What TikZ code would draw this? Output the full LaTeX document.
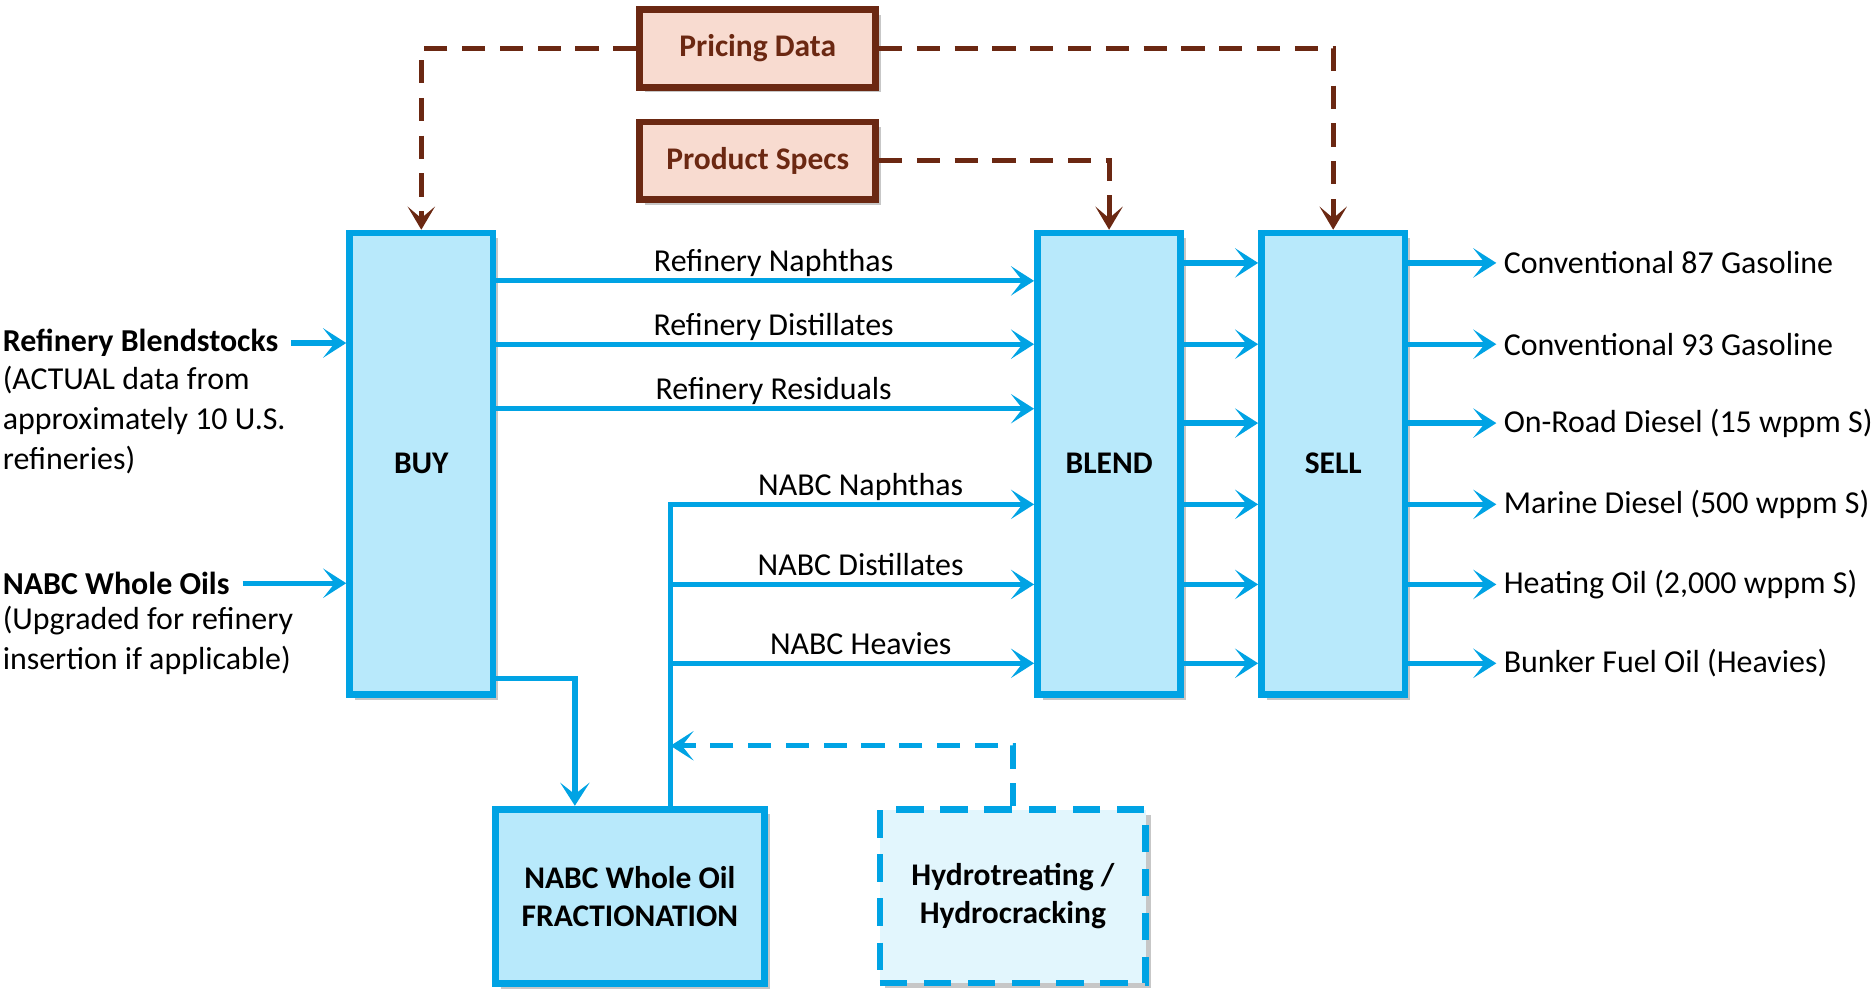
\documentclass[tikz,border=0pt]{standalone}
\usepackage{fontspec}
\setmainfont{Carlito}
\usetikzlibrary{arrows.meta,shadows}

\definecolor{flowblue}{RGB}{0,163,228}
\definecolor{boxblue}{RGB}{184,233,251}
\definecolor{paleblue}{RGB}{226,246,253}
\definecolor{databrown}{RGB}{107,40,18}
\definecolor{datapink}{RGB}{248,219,208}

\tikzset{
  boxshadow/.style={drop shadow={shadow xshift=2.5pt,shadow yshift=-2.5pt,fill=black!22,opacity=1}},
  unit/.style={draw=flowblue,line width=3.2pt,fill=boxblue,font=\fontsize{15}{18}\selectfont\bfseries,align=center,boxshadow},
  datebox/.style={draw=databrown,line width=3.2pt,fill=datapink,text=databrown,font=\fontsize{15}{18}\selectfont\bfseries,minimum width=3.95cm,minimum height=1.3cm,boxshadow},
  flow/.style={draw=flowblue,line width=2.5pt,-{Stealth[length=11pt,width=14pt,inset=5.5pt]}},
  feed/.style={draw=flowblue,line width=2.5pt,dash pattern=on 11pt off 7pt,-{Stealth[length=11pt,width=14pt,inset=5.5pt]}},
  info/.style={draw=databrown,line width=2.4pt,dash pattern=on 11pt off 7pt,-{Stealth[length=11pt,width=13pt,inset=5.5pt]}},
  stream/.style={midway,above,text depth=0.2em,yshift=-2.3pt}
}

\begin{document}
\begin{tikzpicture}[x=0.02cm,y=-0.02cm,every node/.style={font=\fontsize{15.2}{18}\selectfont}]
	\useasboundingbox (0,0) rectangle (1568,827);
	% process boxes
	\node[unit,minimum width=2.4cm,minimum height=7.72cm] (buy) at (352.5,388) {BUY};
	\node[unit,minimum width=2.4cm,minimum height=7.72cm] (blend) at (928,388) {BLEND};
	\node[unit,minimum width=2.4cm,minimum height=7.72cm] (sell) at (1115.5,388) {SELL};
	\node[unit,minimum width=4.5cm,minimum height=2.92cm] (frac) at (527,750) {NABC Whole Oil\\FRACTIONATION};
	\node[unit,fill=paleblue,dash pattern=on 13pt off 8pt,minimum width=4.45cm,minimum height=2.9cm] (hydro) at (847.5,750) {Hydrotreating /\\Hydrocracking};
	\node[datebox] (pricing) at (634,40.5) {Pricing Data};
	\node[datebox] (specs) at (634,134.5) {Product Specs};

	% inputs
	\node[anchor=west,font=\fontsize{15.2}{18}\selectfont\bfseries,inner xsep=0pt] (rbs) at (2,287) {Refinery Blendstocks};
	\node[anchor=north west,align=left,inner xsep=0pt,font=\fontsize{15.2}{19.2}\selectfont] (rbsnote) at (2,300) {(ACTUAL data from\\approximately 10 U.S.\\refineries)};
	\node[anchor=west,font=\fontsize{15.2}{18}\selectfont\bfseries,inner xsep=0pt] (nwo) at (2,488) {NABC Whole Oils};
	\node[anchor=north west,align=left,inner xsep=0pt,font=\fontsize{15.2}{19.2}\selectfont] (nwonote) at (2,501) {(Upgraded for refinery\\insertion if applicable)};
	\draw[flow] ([xshift=6pt]rbs.east) -- (buy.west |- rbs);
	\draw[flow] ([xshift=6pt]nwo.east) -- (buy.west |- nwo);

	% buy to blend
	\draw[flow] (buy.east |- 0,235) -- (blend.west |- 0,235) node[stream,xshift=4pt] {Refinery Naphthas};
	\draw[flow] (buy.east |- 0,288) -- (blend.west |- 0,288) node[stream,xshift=4pt] {Refinery Distillates};
	\draw[flow] (buy.east |- 0,342) -- (blend.west |- 0,342) node[stream,xshift=4pt] {Refinery Residuals};
	\draw[flow] (buy.east |- 0,568) -| (481,0 |- frac.north);

	% fractions to blend
	\coordinate (split) at (561,422);
	\draw[flow] (frac.north -| split) -- (split) -- (blend.west |- split) node[stream,xshift=4pt] {NABC Naphthas};
	\draw[flow] (split |- 0,489) -- (blend.west |- 0,489) node[stream,xshift=4pt] {NABC Distillates};
	\draw[flow] (split |- 0,555) -- (blend.west |- 0,555) node[stream,xshift=4pt] {NABC Heavies};
	\draw[feed] (hydro.north) |- (split |- 0,624);

	% data feeds
	\draw[info] (pricing.west) -| (buy.north);
	\draw[info] (pricing.east) -| (sell.north);
	\draw[info] (specs.east) -| (blend.north);

	% products
	\foreach \y/\name/\txt in {220/p1/Conventional 87 Gasoline, 288/p2/Conventional 93 Gasoline, 354/p3/On-Road Diesel (15 wppm S), 422/p4/Marine Diesel (500 wppm S), 489/p5/Heating Oil (2{,}000 wppm S), 555/p6/Bunker Fuel Oil (Heavies)} {
		\node[anchor=west] (\name) at (1252,\y) {\txt};
		\draw[flow] (blend.east |- \name) -- (sell.west |- \name);
		\draw[flow] (sell.east |- \name) -- (\name.west);
	}
\end{tikzpicture}
\end{document}
